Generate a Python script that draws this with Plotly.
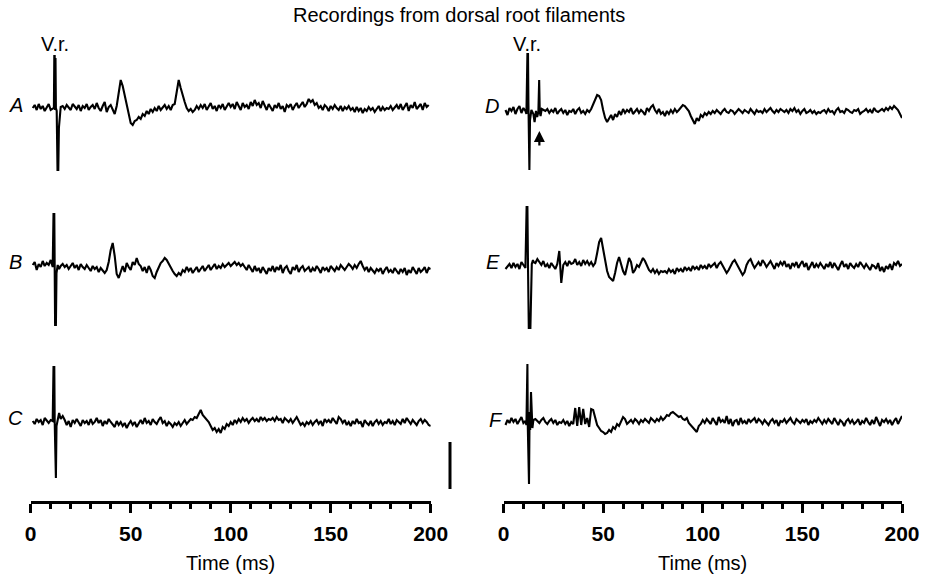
import plotly.graph_objects as go

# ---------------- data (time in ms, deflection in arbitrary units) ----------------
time_ms = list(range(1, 201))

trace_A = ([0, 3, -2, 4, -1, 2, -3, 1, 4, -2] + [0, 0, 0, 0, 0] +
           [2, -1, 3, 0, -2, 4, 1, -1, 3, -3, 2, 0, 4, -2, 1, 3, -1, 5, 0, -3, 2, 6, -4, 1, 3, -2, -6] +
           [2, 14, 28, 22, 12, 2, -8, -15, -17, -13, -12, -9, -11, -6, -8, -3, -6, -1, -4, 0, -3, 2, -2, 1, 3, -1, 2, -2, 3] +
           [4, 18, 28, 20, 12, 6, 0, -3, -1, -4] +
           [-2, 2, -1, 3, 0, 4, -2, 1, 5, -1, 2, -3, 3, 0, 4, -2, 2, 5] +
           [1, 4, -1, 6, 2, -2, 5, 1, 3, -1, 6, 2, 8, 3, 5, 0, 7, 2, -2, 4] +
           [1, -3, 3, 0, 5, -1, 2, -4, 3, 1, 4, -2, 2, 5, 0, 3, 6, 1, 4, 9] +
           [6, 8, 3, 5, 0, 2, -2, 3, 1, -3, 2, -1, 3, 0, -2, 2, -3, 1, -1, 2] +
           [-2, 0, -4, 1, -3, 0, -5, -1, -3, 1, -2, 0, -4, -1, 2, -3, 1, -2, 0, -1] +
           [2, -2, 1, 3, -1, 4, -2, 2, 5, -3, 3, 0, 6, -1, 2, 4, -2, 5, 1, 3])
art_t_A = [11.6, 11.8, 12.0, 12.2, 12.4, 12.6, 13.0, 13.4, 13.8, 14.1, 14.5, 15.0]
art_v_A = [0, 52, 52, -2, 50, 0, -3, -62, -62, -20, -5, 1]

trace_B = ([3, 6, -2, 4, 1, 7, 2, 5, 3, 8] + [0, 0, 0, 0, 0] +
           [4, 1, 3, -1, 2, 5, 0, 3, -2, 4, 1, -1, 3, 0, -3, 2, -1, 1, -4, 0, -2, -5] +
           [-2, 6, 18, 25, 12, -6, -10] +
           [-3, 2, -4, 5, 1, -2, 6, 3, 10, 4, 2, -3, 1, -5, 2, -2] +
           [-8, -10, -4, 1, 5, 7, 10, 8, 4, 1, -3, -6, -8, -5, -7] +
           [-2, -4, 1, -3, 0, -5, -2, 1, -4, -1, 2, -3, 0, 3, -2, 1, 4, -1, 2, 0, 4, 1, 3, 5, 2] +
           [4, 6, 3, 5, 2, 4, 1, -2, 3, -1, -4, 2, -3, 0, -5, 1, -2, -6, 0, -3] +
           [2, -4, 1, -2, 3, -5, 0, 2, -3, -6, 1, -2, 3, -4, 0, 2, -3, -1, 1, -4] +
           [0, -3, 2, -1, -5, 1, -2, 0, -4, 2, -1, -3, 1, -2, 3, 0, -2, 1, 4, 2] +
           [-1, 3, 0, 4, 7, 2, -2, 1, -4, 0, -2, -5, -1, -3, 0, -6, -2, 1, -4, -2] +
           [-5, 0, -3, -6, -1, -4, 0, -7, -2, -5, 1, -3, -6, 0, -4, -2, 1, -5, 0, -1])
art_t_B = [11.0, 11.4, 11.8, 12.0, 12.2, 12.6, 12.9, 13.5, 14.2, 15.0]
art_v_B = [1, 54, 54, 0, -57, -57, -5, 3, -1, 2]

trace_C = ([1, -2, 3, 0, 2, -3, 4, 1, -1, 2] + [0, 0, 0, 0, 0] +
           [6, 2, -3, 1, -5, 2, -1, 3, 0, -4, 2, -1, 1, -3, 3, -2, 0, 4, -1, 2, -4, 1, -2, 3, 0] +
           [-2, -5, 1, -3, 0, -4, -1, -6, -2, 1, -3, 0, -5, -1, 2, -2, 4, -1, 1, -3,
            3, 0, -2, 2, 5, -1, 1, -4, 0, -2, -5, -1, -3, 0, -4, -1, 2, -2, 1, 3] +
           [2, 5, 4, 9, 12, 7, 5, 2, 0, -4, -8, -6, -10, -7, -11, -5, -7, -2, -4, 0] +
           [-3, 2, -1, 3, 0, 4, 1, 3, -1, 2, 4, 1, 3, 0, 5, 2, 4, 1, 3, 2] +
           [4, 1, 5, 2, 3, -1, 4, 2, 0, 3, -1, 2, 5, 1, -3, -1, -4, 0, -2, 1] +
           [-3, 0, 2, -2, 1, -4, 3, 0, 2, -1, 4, 1, -2, 5, 3, -1, 2, -3, 0, -4] +
           [1, -2, 3, -1, 0, -5, 2, -1, -3, 1, -4, 0, 2, -2, 1, -3, 0, -1, 3, -2] +
           [1, -3, 2, 0, -2, 3, -1, 4, 1, -2, 2, 0, -3, 1, 3, -1, 2, 0, -3, -4])
art_t_C = [11.0, 11.4, 11.8, 12.0, 12.3, 12.6, 12.9, 13.5, 14.2, 15.0]
art_v_C = [1, 55, 55, 0, -56, -56, -4, 3, 9, 3]

trace_D = ([2, -3, 4, 1, 5, -2, 3, 6, -1, 4] + [0] * 10 +
           [1, 3, -1, 2, 0, 4, -2, 1, 3, -1, 2, -3, 1, 0, 3, -2, 2, 4, -1, 1, -2, 2, 0, 3] +
           [8, 14, 17, 16, 12, 2, -6, -10, -7, -3, -8] +
           [-2, -5, 1, -3, 3, -1, 2, 0, 4, -2, 1, 3, -1, 2, 0, -3, 4, 1, 5, 7, 2, -1, 3, -2, 0] +
           [-4, 1, -2, 2, -1, 3, 0, 2, 5, 7, 6, 3, 1, -4, -8, -12, -6, -9, -3, -5] +
           [-1, -3, 0, -2, 1, -1, 2, 0, -2, 1, 3, 0, -1, 2, 1, -2, 0, 3, 1, -1] +
           [2, 0, -1, 3, 1, -2, 2, 0, 1, -1, 3, 0, 2, 4, 1, -1, 2, 0, 3, 1] +
           [0, 2, -1, 3, 1, 4, 0, 2, -2, 1, 3, -1, 0, 2, -1, 1, -2, 0, -1, 1] +
           [2, -1, 3, 0, 1, -2, 2, 4, 0, 1, -1, 3, 2, 0, -1, 2, 1, 3, -2, 0] +
           [1, 3, 0, 2, -1, 4, 1, 0, 2, 3, 1, 4, 2, 5, 3, 6, 4, 2, -2, -6])
art_t_D = [11.0, 11.5, 12.0, 12.3, 12.5, 12.7, 13.0, 13.3, 14.0, 15.0, 15.6, 16.3, 16.9, 17.5, 17.9, 18.2, 18.6, 19.2, 20.0]
art_v_D = [1, -2, 58, 58, 10, -58, -58, -8, 2, -2, -10, 1, -5, 0, 32, 0, -4, 3, 2]

trace_E = ([-2, 1, 3, -1, 4, 0, 3, -2, 5, 2] + [0, 0, 0, 0, 0] +
           [4, 8, 5, 2, 6, 0, 3, -1, 4, 1, -2, 3] +
           [16, -16, 2] +
           [5, 1, 6, 3, 4, 8, 2, 5, 1, 7, 3, 6, 2, 5, 1, 4] +
           [14, 25, 29, 18, 6, -4, -10, -12, -14, -6, 4, 10, 3, -4, -8, 1, 9, 5, -6, -3,
            2, 0, 4, 9, 6, 1, -3, -5, -2, -6, -3, -7, -4, -5] +
           [-4, -6, -2, -5, -3, -7, -1, -4, -2, -5, 0, -3, -1, -4, 1, -2, 0, -3, 2, -1] +
           [1, -2, 3, 0, 2, 4, -1, 3, 5, 1, -2, -6, -3, 2, 5, 7, 3, 0, -4, -8] +
           [-5, 2, 6, 8, 3, -1, 2, 5, 1, 7, 4, 0, 3, 6, 2, -2, 4, 1, 5, 2] +
           [6, 0, 3, -2, 4, 1, 5, -1, 3, 6, 0, 4, -3, 2, 5, -1, 3, 0, 4, 1] +
           [-2, 3, 0, 5, -1, 4, 1, -3, 2, 6, 0, 3, -2, 4, 1, -1, 3, 0, 5, 2] +
           [-1, 3, 0, -3, 2, 1, -2, 4, -4, 0, -5, 1, -2, 3, -3, 4, 2, 6, 1, 3])
art_t_E = [11.0, 11.6, 12.0, 12.3, 12.7, 13.5, 13.8, 14.2, 14.8, 15.0]
art_v_E = [-1, 60, 60, 0, -61, -61, -10, 3, 7, 5]

trace_F = ([-3, 2, -1, 4, 0, 3, -2, 1, 5, -1] + [0, 0, 0, 0, 0] +
           [3, 1, -1, 2, 4, 0, -2, 1, 3, -1, 2, -3, 0, -1, 2, -2, 1, -4, 0, -2] +
           [14, -4, 15, -3, 13, -2, 4, -5, 13, 12, 3, -3, -6, -9, -10, -12, -11] +
           [-8, -10, -5, -7, -2, -4, 1, 5, 3, -2, 0, 2, -1, 3, 1, -2, 2, 0, 3, 1, -1, 4, 2, 0, 3, 1, 5, 2] +
           [4, 7, 6, 9, 10, 8, 7, 5, 6, 3, 2, 4, -1, -3, -6, -7, -10, -4, -2, 2] +
           [-1, 3, 0, -2, 4, 1, -3, 5, 0, 2, -1, 6, -2, 3, -4, 1, 2, -3, 4, -1] +
           [1, -2, 3, 0, 2, 4, -1, 3, 1, -2, 2, 0, -3, 1, 3, -1, 2, -4, 1, 0] +
           [3, -1, 2, 4, 0, -2, 3, 1, -1, 2, 0, 3, -3, 1, -1, 2, 0, 4, 1, -2] +
           [2, -1, 3, 0, -2, 4, 1, -3, 2, 0, -4, 1, 3, -1, 2, -2, 0, 3, -3, 1] +
           [-1, 4, 0, -3, 2, -2, 5, 1, -4, 2, 0, 3, -1, 2, -3, 1, 4, -2, 3, 6])
art_t_F = [11.0, 11.5, 11.7, 12.0, 12.2, 12.5, 12.8, 13.1, 13.4, 13.8, 14.1, 14.5, 15.0]
art_v_F = [1, -3, 58, 58, -5, -62, -62, 10, -8, 30, 0, -6, 2]

panel_labels = ["A", "B", "C", "D", "E", "F"]
x_ticks = [0, 50, 100, 150, 200]
stim_time_ms = 12          # ventral-root stimulus (V.r.)
response_arrow_ms = 18     # arrowed response in D
scale_bar_units = 47

# ---------------- layout helpers ----------------
W, H = 929, 577
FONT = "Liberation Sans, Arial, Helvetica, sans-serif"


def px_x(p):
    return p / W


def px_y(p):
    return 1 - p / H


def merge(vals, at, av, window):
    pts = [(t, v) for t, v in zip(time_ms, vals) if not (window[0] <= t <= window[1])]
    pts += list(zip(at, av))
    pts.sort()
    return [p[0] for p in pts], [p[1] for p in pts]


series = [
    (trace_A, art_t_A, art_v_A, (11, 15)),
    (trace_B, art_t_B, art_v_B, (11, 15)),
    (trace_C, art_t_C, art_v_C, (11, 15)),
    (trace_D, art_t_D, art_v_D, (11, 20)),
    (trace_E, art_t_E, art_v_E, (11, 15)),
    (trace_F, art_t_F, art_v_F, (11, 15)),
]
row_centers_px = [108, 268, 422, 112, 267, 422]
HALF = 70  # px half-height of each trace band (1 unit = 1 px)

fig = go.Figure()
layout = dict(
    width=W, height=H, margin=dict(l=0, r=0, t=0, b=0, pad=0, autoexpand=False),
    paper_bgcolor="white", plot_bgcolor="white", showlegend=False,
    font=dict(family=FONT, color="black"),
)

axis_common = dict(
    range=[0, 200], anchor="free", position=px_y(502), automargin=False,
    showgrid=False, zeroline=False, showline=True, linecolor="black", linewidth=3,
    ticks="outside", tickvals=x_ticks, ticklen=9, tickwidth=3, tickcolor="black",
    ticklabelstandoff=3,
    tickfont=dict(size=21, family=FONT, color="black", weight="bold"),
    minor=dict(dtick=10, tick0=0, ticks="outside", ticklen=5, tickwidth=2.5, tickcolor="black", showgrid=False),
)
layout["xaxis"] = dict(domain=[px_x(30.7), px_x(430.7)], **axis_common)
layout["xaxis2"] = dict(domain=[px_x(503.5), px_x(902)], **axis_common)

for i, (vals, at, av, win) in enumerate(series):
    xs, ys = merge(vals, at, av, win)
    xa = "x" if i < 3 else "x2"
    ya = "y" if i == 0 else f"y{i + 1}"
    fig.add_trace(go.Scatter(x=xs, y=ys, mode="lines", xaxis=xa, yaxis=ya,
                             line=dict(color="black", width=2.1), hoverinfo="skip"))
    c = row_centers_px[i]
    key = "yaxis" if i == 0 else f"yaxis{i + 1}"
    layout[key] = dict(domain=[px_y(c + HALF), px_y(c - HALF)], range=[-HALF, HALF],
                       visible=False, anchor=xa, fixedrange=True, automargin=False)

CM = dict(xanchor="center", yanchor="middle", showarrow=False)
annotations = []
# title
annotations.append(dict(text="Recordings from dorsal root filaments", xref="paper", yref="paper",
                        x=px_x(459), y=px_y(15), font=dict(size=20), **CM))
# V.r. labels
for xa in ("x", "x2"):
    annotations.append(dict(text="V.r.", xref=xa, yref="paper", x=stim_time_ms, y=px_y(44),
                            font=dict(size=20), **CM))
# panel letters
label_pos = [(16, 105), (15, 262), (15, 418), (492, 106), (493, 262), (496, 420)]
for lab, (lx, ly) in zip(panel_labels, label_pos):
    annotations.append(dict(text=f"<i>{lab}</i>", xref="paper", yref="paper", x=px_x(lx), y=px_y(ly),
                            font=dict(size=20), **CM))
# axis titles
for cx in (230.7, 702.7):
    annotations.append(dict(text="Time (ms)", xref="paper", yref="paper", x=px_x(cx), y=px_y(563),
                            font=dict(size=20), **CM))
# arrow in D pointing at the response
annotations.append(dict(text="", xref="x2", yref="y4", x=response_arrow_ms, y=-19,
                        axref="x2", ayref="y4", ax=response_arrow_ms, ay=-35,
                        showarrow=True, arrowhead=2, arrowsize=1.0, arrowwidth=2.2, arrowcolor="black"))
layout["annotations"] = annotations

# calibration bar
layout["shapes"] = [dict(type="line", xref="paper", yref="y3", x0=px_x(450), x1=px_x(450),
                         y0=-20, y1=-20 - scale_bar_units, line=dict(color="black", width=3))]

fig.update_layout(**layout)
fig.write_html("out.html", config={"displayModeBar": False},
               post_script="document.body.style.margin='0';document.body.style.overflow='hidden';")
